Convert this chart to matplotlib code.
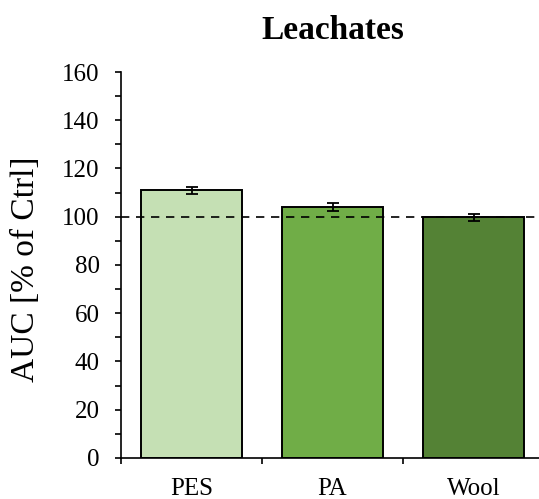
import matplotlib
matplotlib.use("Agg")
import matplotlib.pyplot as plt

plt.rcParams['font.family'] = ['Liberation Serif', 'DejaVu Serif']

# AUC of leachate-exposed samples relative to control
materials = ["PES", "PA", "Wool"]
auc_mean = [111.0, 104.0, 99.7]
auc_err = [1.5, 1.6, 1.6]
bar_colors = ["#C5E0B4", "#70AD47", "#548235"]

fig = plt.figure(figsize=(5.39, 4.99), dpi=100)
ax = fig.add_axes([0.2245, 0.0822, 0.7848, 0.7735])

x = range(len(materials))
ax.bar(x, auc_mean, width=0.72, color=bar_colors, edgecolor="black", linewidth=1.4, zorder=2)
ax.errorbar(x, auc_mean, yerr=auc_err, fmt="none", ecolor="black",
            elinewidth=1.3, capsize=4, capthick=1.3, zorder=3)

# control level
ax.axhline(100, color="black", linestyle=(0, (5, 4)), linewidth=1.2, zorder=4)

ax.set_xlim(-0.5, len(materials) - 0.5)
ax.set_ylim(0, 160)
ax.set_yticks(range(0, 161, 20))
ax.set_yticks(range(10, 160, 20), minor=True)
ax.set_xticks(list(x))
ax.set_xticklabels(materials)
ax.set_xticks([-0.5, 0.5, 1.5, 2.5], minor=True)

ax.tick_params(axis="y", which="both", direction="out", length=4.3, width=1.2,
               labelsize=18, pad=11)
ax.tick_params(axis="x", which="major", length=0, labelsize=18, pad=14.5)
ax.tick_params(axis="x", which="minor", direction="out", length=4.3, width=1.2)

for side in ["top", "right"]:
    ax.spines[side].set_visible(False)
for side in ["left", "bottom"]:
    ax.spines[side].set_linewidth(1.2)

ax.set_ylabel("AUC [% of Ctrl]", fontsize=24)
ax.yaxis.set_label_coords(-0.19, 0.49)
ax.set_title("Leachates", fontsize=24, fontweight="bold", pad=24)

fig.savefig("out.png", dpi=100)
